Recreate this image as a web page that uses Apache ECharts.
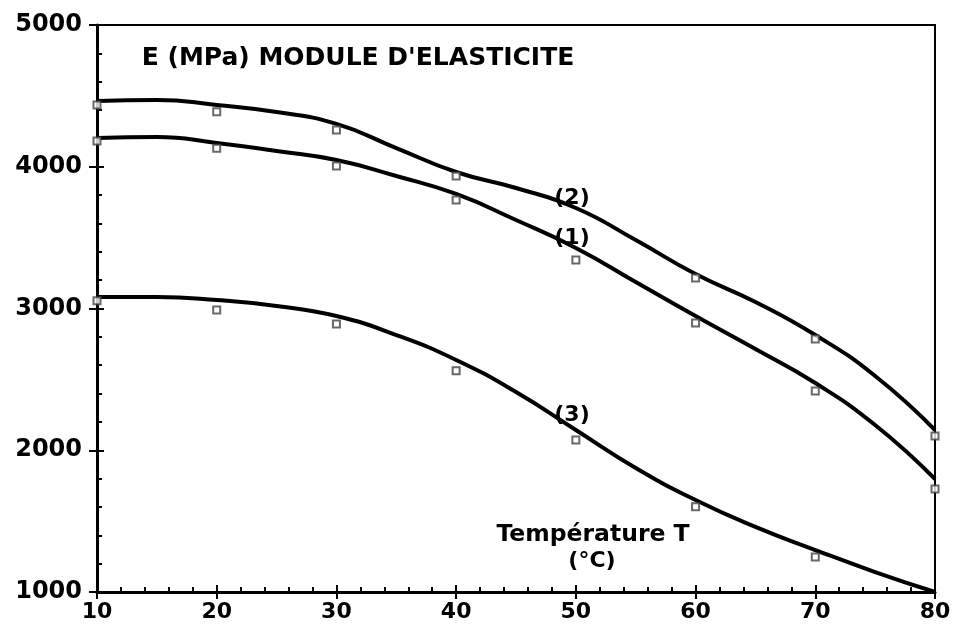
<!DOCTYPE html>
<html>
<head>
<meta charset="utf-8">
<script src="https://cdn.jsdelivr.net/npm/echarts@6/dist/echarts.min.js"></script>
<style>html,body{margin:0;padding:0;background:#fff}#c{width:954px;height:631px}</style>
</head>
<body>
<div id="c"></div>
<script>
// Temperatures (°C) for the measured points
var temps = [10, 20, 30, 40, 50, 60, 70, 80];
// Temperatures for the fitted curves
var curveTemps = [10, 15, 20, 25, 30, 35, 40, 45, 50, 55, 60, 65, 70, 75, 80];
// Fitted curves
var curve1 = [4203, 4210, 4168, 4111, 4048, 3935, 3808, 3624, 3427, 3187, 2947, 2714, 2474, 2178, 1797];
var curve2 = [4464, 4471, 4436, 4386, 4302, 4132, 3963, 3850, 3709, 3483, 3243, 3046, 2813, 2524, 2143];
var curve3 = [3081, 3081, 3060, 3018, 2947, 2813, 2637, 2411, 2143, 1875, 1649, 1459, 1296, 1141, 1000];
// Measured points (markers)
var points1 = [4182, 4130, 4005, 3765, 3342, 2897, 2418, 1727];
var points2 = [4436, 4388, 4259, 3935, null, 3215, 2785, 2101];
var points3 = [3055, 2989, 2890, 2560, 2072, 1602, 1247, null];
var yTicks = [1000, 2000, 3000, 4000, 5000];
var xTicks = [10, 20, 30, 40, 50, 60, 70, 80];

function pairs(xs, ys) { return xs.map(function (x, i) { return [x, ys[i]]; }).filter(function (p) { return p[1] != null; }); }

var FONT = '"DejaVu Sans", "Liberation Sans", Arial, sans-serif';
var chart = echarts.init(document.getElementById('c'), null, { renderer: 'canvas' });

function lineSeries(d) {
  return { type: 'line', xAxisIndex: 0, yAxisIndex: 0, data: pairs(curveTemps, d), smooth: 0.5, symbol: 'none',
    lineStyle: { color: '#000', width: 4 }, z: 3 };
}
function markSeries(d) {
  return { type: 'scatter', xAxisIndex: 0, yAxisIndex: 0, data: pairs(temps, d), symbol: 'emptyRect', symbolSize: 7,
    itemStyle: { color: '#444', borderColor: '#444', borderWidth: 1.5 }, z: 4 };
}

var baseX = { type: 'value', min: xTicks[0], max: xTicks[xTicks.length - 1], interval: 10, splitLine: { show: false } };
var baseY = { type: 'value', min: yTicks[0], max: yTicks[yTicks.length - 1], interval: 1000, splitLine: { show: false } };

chart.setOption({
  animation: false,
  grid: { left: 97, right: 19, top: 25, bottom: 39, show: true, borderColor: '#000', borderWidth: 2, backgroundColor: 'transparent' },
  xAxis: [
    Object.assign({}, baseX, {
      axisLine: { lineStyle: { color: '#000', width: 3 } },
      axisTick: { show: true, inside: false, length: 7, lineStyle: { color: '#000', width: 2 } },
      axisLabel: { color: '#000', fontFamily: FONT, fontWeight: 'bold', fontSize: 22, margin: 9, formatter: function (v) { return String(v); } }
    }),
    Object.assign({}, baseX, {
      position: 'bottom',
      axisLine: { show: false },
      axisTick: { show: true, inside: true, length: 7, lineStyle: { color: '#000', width: 2 } },
      minorTick: { show: true, splitNumber: 5, length: 5, lineStyle: { color: '#000', width: 2 } },
      axisLabel: { show: false }
    })
  ],
  yAxis: [
    Object.assign({}, baseY, {
      axisLine: { lineStyle: { color: '#000', width: 3 } },
      axisTick: { show: true, inside: false, length: 8, lineStyle: { color: '#000', width: 2 } },
      axisLabel: { color: '#000', fontFamily: FONT, fontWeight: 'bold', fontSize: 24, margin: 15, formatter: function (v) { return String(v); } }
    }),
    Object.assign({}, baseY, {
      position: 'left',
      axisLine: { show: false },
      axisTick: { show: true, inside: true, length: 7, lineStyle: { color: '#000', width: 2 } },
      minorTick: { show: true, splitNumber: 5, length: 5, lineStyle: { color: '#000', width: 2 } },
      axisLabel: { show: false }
    })
  ],
  series: [
    lineSeries(curve1), lineSeries(curve2), lineSeries(curve3),
    markSeries(points1), markSeries(points2), markSeries(points3)
  ],
  graphic: [
    { type: 'text', style: { x: 358, y: 58, text: "E (MPa) MODULE D'ELASTICITE", textAlign: 'center', textVerticalAlign: 'middle', fill: '#000', font: 'bold 25px ' + FONT } },
    { type: 'text', style: { x: 572, y: 198, text: '(2)', textAlign: 'center', textVerticalAlign: 'middle', fill: '#000', font: 'bold 22px ' + FONT } },
    { type: 'text', style: { x: 572, y: 238, text: '(1)', textAlign: 'center', textVerticalAlign: 'middle', fill: '#000', font: 'bold 22px ' + FONT } },
    { type: 'text', style: { x: 572, y: 415, text: '(3)', textAlign: 'center', textVerticalAlign: 'middle', fill: '#000', font: 'bold 22px ' + FONT } },
    { type: 'text', style: { x: 593, y: 535, text: 'Température T', textAlign: 'center', textVerticalAlign: 'middle', fill: '#000', font: 'bold 23.5px ' + FONT } },
    { type: 'text', style: { x: 592, y: 561, text: '(°C)', textAlign: 'center', textVerticalAlign: 'middle', fill: '#000', font: 'bold 22px ' + FONT } }
  ]
});
</script>
</body>
</html>
